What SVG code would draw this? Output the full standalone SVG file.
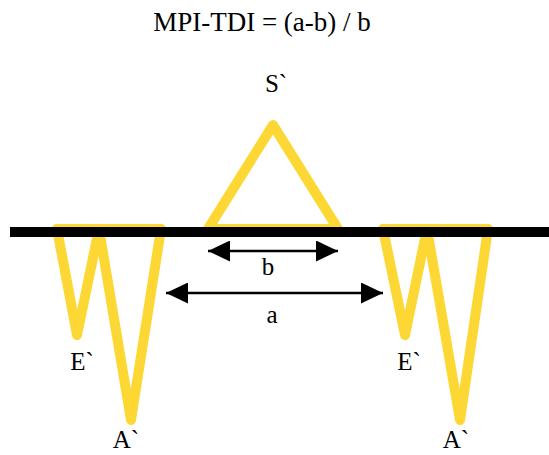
<svg xmlns="http://www.w3.org/2000/svg" width="549" height="455" viewBox="0 0 549 455">
<defs>
<style>
.t{font-family:"Liberation Serif","DejaVu Serif",serif;fill:#000;text-anchor:middle}
.y{fill:none;stroke:#FDD835;stroke-width:10;stroke-linejoin:round;stroke-linecap:round}
.ar{stroke:#000;stroke-width:2.5;fill:none}
</style>
<marker id="ah" viewBox="0 0 22 21" refX="22" refY="10.5" markerWidth="22" markerHeight="21" markerUnits="userSpaceOnUse" orient="auto-start-reverse">
<path d="M0,0 L22,10.5 L0,21 Z" fill="#000"/>
</marker>
</defs>
<rect width="549" height="455" fill="#fff"/>
<text class="t" x="262" y="31" font-size="27">MPI-TDI = (a-b) / b</text>
<g id="wave-left">
<polyline class="y" points="57,229 161,229"/>
<polyline class="y" points="57,229 77,335 99,229 131,420 161,229"/>
</g>
<g id="wave-s">
<polyline class="y" points="208,229 273,125 338,229 208,229"/>
</g>
<g id="wave-right">
<polyline class="y" points="383,229 488,229"/>
<polyline class="y" points="383,229 405,335 427,229 460,420 488,229"/>
</g>
<g id="baseline">
<rect x="10" y="227" width="539" height="10" fill="#000"/>
</g>
<g id="connectors">
<line class="ar" x1="208" y1="251" x2="338" y2="251" marker-start="url(#ah)" marker-end="url(#ah)"/>
<line class="ar" x1="166" y1="293" x2="383" y2="293" marker-start="url(#ah)" marker-end="url(#ah)"/>
</g>
<g id="labels">
<text class="t" x="276" y="92" font-size="25">S`</text>
<text class="t" x="268" y="275" font-size="25">b</text>
<text class="t" x="272" y="323" font-size="25">a</text>
<text class="t" x="82" y="370" font-size="25">E`</text>
<text class="t" x="126" y="448" font-size="25">A`</text>
<text class="t" x="409" y="370" font-size="25">E`</text>
<text class="t" x="456" y="448" font-size="25">A`</text>
</g>
</svg>
